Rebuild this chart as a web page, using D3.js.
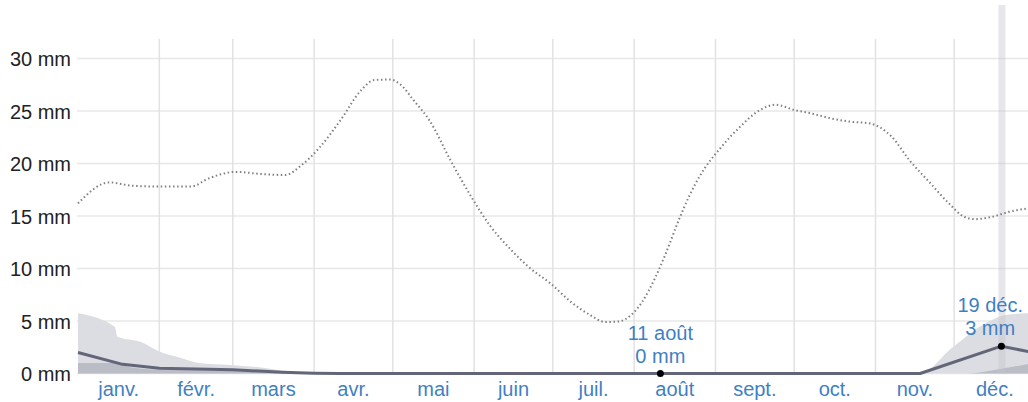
<!DOCTYPE html>
<html><head><meta charset="utf-8">
<script src="https://cdn.jsdelivr.net/npm/d3@7"></script>
<style>
html,body{margin:0;padding:0;background:#fff;}
svg{display:block;font-family:"Liberation Sans",Arial,Helvetica,sans-serif;}
</style>
</head><body>
<svg id="chart" width="1028" height="402"></svg>
<script>
// ---------- data ----------
const monthLabels = ["janv.","févr.","mars","avr.","mai","juin","juil.","août","sept.","oct.","nov.","déc."];
const yTicks = [0,5,10,15,20,25,30];

// dotted line (smooth climatology curve), mm
const dottedDates  = ["01-01","01-13","01-21","02-01","02-13","02-20","03-02","03-12","03-21","03-27",
                      "04-03","04-11","04-19","04-24","04-30","05-04","05-09","05-15","05-23","05-31",
                      "06-07","06-15","06-22","06-30","07-08","07-15","07-21","07-26","07-31","08-04",
                      "08-09","08-13","08-18","08-22","08-26","09-03","09-10","09-18","09-24","10-01","10-07",
                      "10-15","10-22","10-30","11-07","11-14","11-22","11-29","12-05","12-09","12-15",
                      "12-22","12-31"];
const dottedValues = [16.2,18.2,17.9,17.8,17.8,18.6,19.2,19.0,18.9,19.8,
                      21.5,24.1,27.0,27.95,28.0,27.5,26.0,24.1,20.3,16.8,
                      14.1,11.8,10.1,8.6,6.8,5.6,4.9,4.95,5.6,6.8,
                      9.1,11.4,14.6,16.9,18.8,21.5,23.4,25.1,25.6,25.1,24.8,
                      24.3,24.0,23.8,22.6,20.3,18.1,16.2,14.9,14.7,14.9,
                      15.4,15.8];

// median line, mm
const medianDates  = ["01-01","01-18","02-01","03-01","03-20","04-01","04-11","11-18","12-19","12-31"];
const medianValues = [2.0,0.87,0.5,0.35,0.12,0.03,0,0,2.6,2.0];

// light band upper bound (lower bound 0), mm
const lightDates  = ["01-01","01-15","01-16","01-25","02-01","02-09","02-16","02-28","03-11","03-23","03-31","11-18","11-30","12-13","12-21","12-31"];
const lightValues = [5.75,4.45,3.5,3.0,2.1,1.5,1.0,0.82,0.6,0.17,0,0,2.4,4.8,5.6,5.75];

// dark band upper bound (lower bound 0), mm
const darkDates  = ["01-01","01-16","01-21","02-01","03-01","03-21","03-31","12-06","12-19","12-31"];
const darkValues = [1.0,1.0,0.6,0.35,0.25,0.05,0,0,0.45,1.0];

// highlighted points
const highlightDates  = ["08-11","12-19"];
const highlightValues = [0,2.6];
const highlightDateLabels  = ["11 août","19 déc."];
const highlightValueLabels = ["0 mm","3 mm"];

// ---------- setup ----------
const W = 1028, H = 402;
const parse = s => { const [m,d] = s.split("-").map(Number); return new Date(2023, m-1, d); };
const svg = d3.select("#chart");

const x = d3.scaleTime().domain([new Date(2023,0,1), new Date(2024,0,1)]).range([78, 1035.5]);
const y = d3.scaleLinear().domain([0,30]).range([373.5, 58.5]);
const plotTop = 39;

// horizontal grid + y labels
const yAxis = d3.axisLeft(y).tickValues(yTicks).tickFormat(d => d + " mm").tickSize(0).tickPadding(0);
const gy = svg.append("g").attr("transform","translate(71,0)").call(yAxis);
gy.select(".domain").remove();
gy.selectAll("text").attr("font-size",20).attr("fill","#222").attr("font-family","Liberation Sans, Arial, sans-serif").attr("dy","0.35em");

svg.append("g").selectAll("line").data(yTicks).join("line")
  .attr("x1",77).attr("x2",W).attr("y1",d=>y(d)).attr("y2",d=>y(d))
  .attr("stroke","#e8e8e8").attr("stroke-width",1.5);

// vertical month grid
const monthStarts = d3.range(1,12).map(m => new Date(2023,m,1));
svg.append("g").selectAll("line").data(monthStarts).join("line")
  .attr("x1",d=>x(d)).attr("x2",d=>x(d)).attr("y1",plotTop).attr("y2",y(0))
  .attr("stroke","#e2e2e2").attr("stroke-width",1.5);

// month labels
svg.append("g").selectAll("text").data(monthLabels).join("text")
  .attr("x",(d,i)=> (x(new Date(2023,i,1)) + x(new Date(2023,i+1,1)))/2)
  .attr("y",396).attr("text-anchor","middle").attr("font-size",20).attr("fill","#3f7fc4")
  .text(d=>d);

// bands
function series(dates, vals){ return dates.map((d,i)=>({date:parse(d), v:vals[i]})); }
const area = d3.area().x(d=>x(d.date)).y0(y(0)).y1(d=>y(d.v)).curve(d3.curveMonotoneX);
svg.append("path").datum(series(lightDates, lightValues)).attr("d",area).attr("fill","#dcdde2");
svg.append("path").datum(series(darkDates, darkValues)).attr("d",area).attr("fill","#babcc6");

// hover band
const hx = x(parse(highlightDates[1]));
svg.append("rect").attr("x",hx-3).attr("y",5).attr("width",7).attr("height",y(0)-5)
  .attr("fill","#c4c4cc").attr("opacity",0.4);

// dotted line
const line = d3.line().x(d=>x(d.date)).y(d=>y(d.v)).curve(d3.curveMonotoneX);
svg.append("path").datum(series(dottedDates, dottedValues)).attr("d",line)
  .attr("fill","none").attr("stroke","#808080").attr("stroke-width",2).attr("stroke-dasharray","1.5,2.6");

// median line
svg.append("path").datum(series(medianDates, medianValues)).attr("d",line.curve(d3.curveLinear))
  .attr("fill","none").attr("stroke","#626678").attr("stroke-width",3).attr("stroke-linejoin","round");

// highlights
highlightDates.forEach((ds,i)=>{
  const px = x(parse(ds)), py = y(highlightValues[i]);
  svg.append("circle").attr("cx",px).attr("cy",py).attr("r",3.5).attr("fill","#000");
  const g = svg.append("g");
  const t1 = g.append("text").attr("y",py-34).attr("text-anchor","middle").attr("font-size",20).attr("fill","#3f7fc4").text(highlightDateLabels[i]);
  const t2 = g.append("text").attr("y",py-11).attr("text-anchor","middle").attr("font-size",20).attr("fill","#3f7fc4").text(highlightValueLabels[i]);
  const wmax = Math.max(t1.node().getComputedTextLength(), t2.node().getComputedTextLength());
  const cx = Math.min(px, W - 5 - wmax/2);
  t1.attr("x",cx); t2.attr("x",cx);
});
</script>
</body></html>
